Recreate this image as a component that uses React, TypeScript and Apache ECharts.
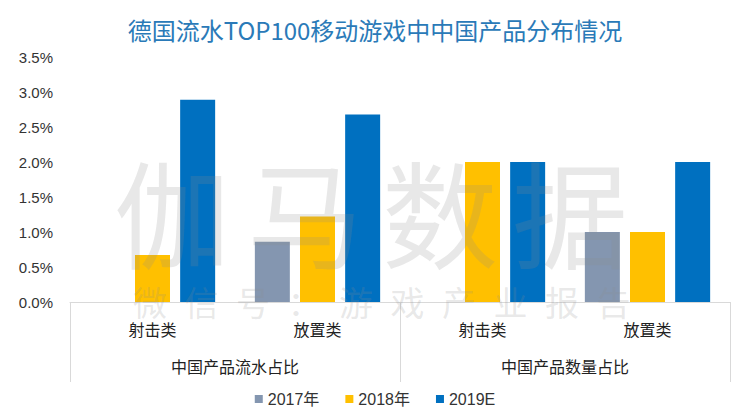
import React, { useEffect, useRef } from "react";
import * as echarts from "echarts";

const subCategories = ["射击类", "放置类", "射击类", "放置类"];
const groupCategories = ["中国产品流水占比", "中国产品数量占比"];
const seriesNames = ["2017年", "2018年", "2019E"];
const values2017 = [null, 0.86, null, 1.0];
const values2018 = [0.67, 1.22, 2.0, 1.0];
const values2019 = [2.89, 2.68, 2.0, 2.0];
const seriesColors = ["#8496B0", "#FFC000", "#0070C0"];
const yTicks = { min: 0, max: 3.5, interval: 0.5 };
const watermarkBig = ["伽", "马", "数", "据"];
const watermarkSmall = ["微", "信", "号", "：", "游", "戏", "产", "业", "报", "告"];

export default function App() {
  const ref = useRef<HTMLDivElement>(null);
  useEffect(() => {
    if (!ref.current) return;
    const chart = echarts.init(ref.current, undefined, { renderer: "svg" });
    const font = "'Liberation Sans', Arial, 'Noto Sans CJK SC', sans-serif";
    const allValues = [values2017, values2018, values2019];
    const bigCenters = [172, 305, 440, 570];
    const graphics: any[] = [];
    watermarkBig.forEach((ch, i) => {
      graphics.push({
        type: "text",
        x: bigCenters[i],
        y: 209,
        z: 100,
        silent: true,
        style: {
          text: ch,
          fontSize: 116,
          lineHeight: 100,
          fontFamily: "'Noto Sans CJK SC', sans-serif",
          fill: "rgba(140,140,140,0.2)",
          align: "center",
          verticalAlign: "middle",
        },
      });
    });
    watermarkSmall.forEach((ch, i) => {
      graphics.push({
        type: "text",
        x: 150 + i * 51.5,
        y: 301,
        z: 100,
        silent: true,
        style: {
          text: ch,
          fontSize: 34,
          lineHeight: 30,
          fontFamily: "'Noto Sans CJK SC', sans-serif",
          fill: "rgba(140,140,140,0.2)",
          align: "center",
          verticalAlign: "middle",
        },
      });
    });
    chart.setOption({
      animation: false,
      backgroundColor: "#ffffff",
      title: {
        text: "德国流水TOP100移动游戏中中国产品分布情况",
        left: "center",
        top: 12,
        textStyle: {
          fontSize: 24,
          fontWeight: "normal",
          color: "#2a7ab8",
          fontFamily: "'Noto Sans CJK SC', sans-serif",
        },
      },
      legend: {
        data: seriesNames,
        bottom: 8,
        left: "center",
        icon: "rect",
        itemWidth: 8,
        itemHeight: 8,
        itemGap: 26,
        textStyle: { fontSize: 16, color: "#333", fontFamily: font },
      },
      grid: { left: 70, right: 20, top: 57, bottom: 118 },
      xAxis: [
        {
          type: "category",
          data: subCategories,
          position: "bottom",
          axisLine: { show: true, lineStyle: { color: "#d9d9d9" } },
          axisTick: { show: false },
          axisLabel: { margin: 20, fontSize: 16, color: "#222", fontFamily: font, interval: 0 },
        },
        {
          type: "category",
          data: groupCategories,
          position: "bottom",
          axisLine: { show: false },
          axisTick: { show: true, length: 80, interval: 0, lineStyle: { color: "#d9d9d9" } },
          axisLabel: { margin: 57, fontSize: 16, color: "#222", fontFamily: font, interval: 0 },
        },
      ],
      yAxis: {
        type: "value",
        min: yTicks.min,
        max: yTicks.max,
        interval: yTicks.interval,
        axisLine: { show: false },
        axisTick: { show: false },
        splitLine: { show: false },
        axisLabel: {
          margin: 17,
          fontSize: 15,
          color: "#333",
          fontFamily: font,
          formatter: (v: number) => v.toFixed(1) + "%",
        },
      },
      series: seriesNames.map((name, i) => ({
        name,
        type: "bar",
        xAxisIndex: 0,
        data: allValues[i],
        barWidth: 35,
        barGap: "29%",
        itemStyle: { color: seriesColors[i] },
      })),
      graphic: graphics,
    });
    return () => chart.dispose();
  }, []);
  return <div ref={ref} style={{ width: 750, height: 420, position: "fixed", left: 0, top: 0 }} />;
}
